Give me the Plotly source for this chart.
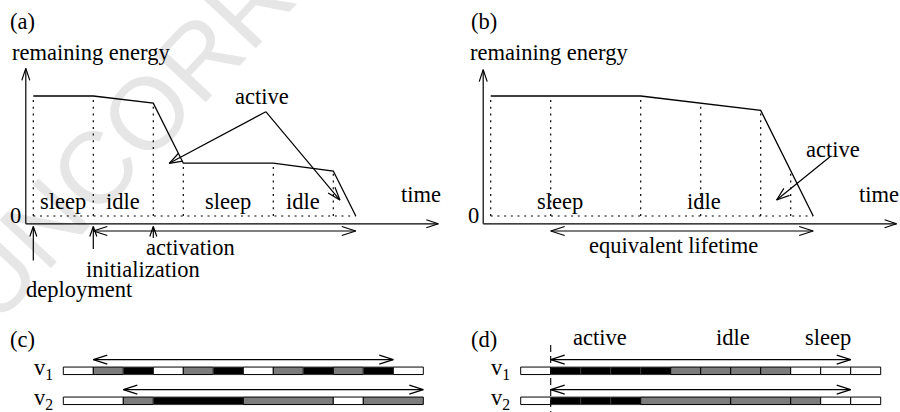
import math
import plotly.graph_objects as go

W, H = 900, 412
FONT = "Liberation Serif"
FS = 22.5

# ---------------- data ----------------
# panel (a): remaining energy of a node over time
a_time = [0, 2, 4, 5, 8, 10, 10.75]
a_energy = [10, 10, 9.4, 4.4, 4.4, 3.75, 0]
a_marks = [0, 2, 4, 5, 8, 10]
a_labels = ["sleep", "idle", "sleep", "idle"]
a_label_t = [1, 3, 6.5, 9]
a_events = ["deployment", "initialization", "activation"]
a_event_t = [0, 2, 4]
a_active_tips = [(4.53, 4.39), (10.22, 1.33)]
a_span = [2, 10.75]

# panel (b): equivalent ordering of states
b_time = [0, 5, 9, 10.75]
b_energy = [10, 10, 8.8, 0]
b_marks = [0, 2, 5, 7, 9, 10]
b_labels = ["sleep", "idle"]
b_label_t = [2.3, 7.1]
b_active_tips = [(9.53, 1.33)]
b_span = [2, 10.75]

# panels (c), (d): state sequences (state, duration)
state_color = {"sleep": "#ffffff", "idle": "#7c7c7c", "active": "#000000"}
c_v1 = [("sleep", 1), ("idle", 1), ("active", 1), ("sleep", 1), ("idle", 1), ("active", 1),
        ("sleep", 1), ("idle", 1), ("active", 1), ("idle", 1), ("active", 1), ("sleep", 1)]
c_v2 = [("sleep", 2), ("idle", 1), ("active", 3), ("idle", 3), ("sleep", 1), ("idle", 2)]
d_v1 = [("sleep", 1), ("active", 1), ("active", 1), ("active", 1), ("active", 1),
        ("idle", 1), ("idle", 1), ("idle", 1), ("idle", 1), ("sleep", 1), ("sleep", 1), ("sleep", 1)]
d_v2 = [("sleep", 1), ("active", 1), ("active", 1), ("active", 1), ("idle", 3), ("idle", 2),
        ("idle", 1), ("sleep", 1), ("sleep", 1)]
c_spans = [(1, 11), (2, 12)]
d_spans = [(1, 11), (1, 11)]
d_headers = ["active", "idle", "sleep"]
d_header_t = [2.64, 7.08, 10.24]
node_names = ["v<sub>1</sub>", "v<sub>2</sub>"]

# ---------------- layout helpers ----------------
panels = {
    "a": dict(xa="x", ya="y", dom_x=(0, 450), x0px=33.3, dom_y=(40, 300), y0px=216, ux=30, uy=-12),
    "b": dict(xa="x2", ya="y2", dom_x=(450, 900), x0px=490.7, dom_y=(40, 300), y0px=216, ux=30, uy=-12),
    "c": dict(xa="x3", ya="y3", dom_x=(0, 450), x0px=63.3, dom_y=(320, 412), y0px=370.8, ux=30, uy=30),
    "d": dict(xa="x4", ya="y4", dom_x=(450, 900), x0px=520.7, dom_y=(320, 412), y0px=370.8, ux=30, uy=30),
}

fig = go.Figure()
layout_axes = {}
for k, p in panels.items():
    xr = [(p["dom_x"][0] - p["x0px"]) / p["ux"], (p["dom_x"][1] - p["x0px"]) / p["ux"]]
    yr = [(p["dom_y"][1] - p["y0px"]) / p["uy"], (p["dom_y"][0] - p["y0px"]) / p["uy"]]
    xname = "xaxis" + p["xa"][1:]
    yname = "yaxis" + p["ya"][1:]
    layout_axes[xname] = dict(domain=[p["dom_x"][0] / W, p["dom_x"][1] / W], range=xr,
                              visible=False, fixedrange=True, anchor=p["ya"])
    layout_axes[yname] = dict(domain=[1 - p["dom_y"][1] / H, 1 - p["dom_y"][0] / H], range=yr,
                              visible=False, fixedrange=True, anchor=p["xa"])


def head(tip, tail, p, L, Wd):
    ux, uy = p["ux"], p["uy"]
    dx = (tip[0] - tail[0]) * ux
    dy = (tip[1] - tail[1]) * uy
    n = math.hypot(dx, dy)
    ex, ey = dx / n, dy / n
    pts = []
    for s in (1, -1):
        hx = -ex * L - s * ey * Wd
        hy = -ey * L + s * ex * Wd
        pts.append((tip[0] + hx / ux, tip[1] + hy / uy))
    return [pts[0][0], tip[0], pts[1][0], None], [pts[0][1], tip[1], pts[1][1], None]


def arrows(p, specs):
    xs, ys = [], []
    for tail, tip, both, L, Wd in specs:
        xs += [tail[0], tip[0], None]
        ys += [tail[1], tip[1], None]
        hx, hy = head(tip, tail, p, L, Wd)
        xs += hx
        ys += hy
        if both:
            hx, hy = head(tail, tip, p, L, Wd)
            xs += hx
            ys += hy
    return xs, ys


def add_line(p, xs, ys, width=1.2, dash=None, color="black"):
    fig.add_trace(go.Scatter(x=xs, y=ys, mode="lines", xaxis=p["xa"], yaxis=p["ya"],
                             line=dict(color=color, width=width, dash=dash),
                             hoverinfo="skip", showlegend=False))


def interp(t, ts, es):
    for i in range(len(ts) - 1):
        if ts[i] <= t <= ts[i + 1]:
            f = (t - ts[i]) / (ts[i + 1] - ts[i])
            return es[i] + f * (es[i + 1] - es[i])
    return es[-1]


DOT = "2px,4.7px"
AX_Y = -0.65
AX_X = -0.25

# ---------------- panels (a) and (b) ----------------
for key, ts, es, marks, tips, span, top, right in (
        ("a", a_time, a_energy, a_marks, a_active_tips, a_span, 12.3, 13.5),
        ("b", b_time, b_energy, b_marks, b_active_tips, b_span, 12.2, 13.53)):
    p = panels[key]
    # dotted guides
    dx, dy = [], []
    for t in marks:
        dx += [t, t, None]
        dy += [0, interp(t, ts, es), None]
    dx += [ts[0], ts[-1]]
    dy += [0, 0]
    add_line(p, dx, dy, width=1.2, dash=DOT)
    # energy curve
    add_line(p, ts, es, width=1.3)
    # axes + annotation arrows
    specs = [((AX_X, AX_Y), (AX_X, top), False, 12, 4),
             ((AX_X, AX_Y), (right, AX_Y), False, 12, 4),
             ((span[0], -1.25), (span[1], -1.25), True, 14, 4.5)]
    if key == "a":
        tail = (7.75, 8.69)
        for tt in tips:
            specs.append((tail, tt, False, 13, 4.5))
        for t, bottom in zip(a_event_t, [-3.7, -2.75, -1.83]):
            specs.append(((t, bottom), (t, -0.875), False, 10, 3.5))
    else:
        tail = (11.31, 4.94)
        for tt in tips:
            specs.append((tail, tt, False, 13, 4.5))
    ax_, ay_ = arrows(p, specs)
    add_line(p, ax_, ay_, width=1.2)

# ---------------- panels (c) and (d) ----------------
for key, rows, spans in (("c", [c_v1, c_v2], c_spans), ("d", [d_v1, d_v2], d_spans)):
    p = panels[key]
    for r, seq in enumerate(rows):
        starts, lens, cols, lcols = [], [], [], []
        t = 0
        for st, du in seq:
            starts.append(t)
            lens.append(du)
            cols.append(state_color[st])
            lcols.append("#3a3a3a" if st == "active" else "#000000")
            t += du
        fig.add_trace(go.Bar(orientation="h", y=[r] * len(seq), x=lens, base=starts, width=0.25,
                             marker=dict(color=cols, line=dict(color=lcols, width=1)),
                             xaxis=p["xa"], yaxis=p["ya"], hoverinfo="skip", showlegend=False))
    specs = [((spans[r][0], r - 0.373), (spans[r][1], r - 0.373), True, 14, 4.5) for r in range(2)]
    ax_, ay_ = arrows(p, specs)
    add_line(p, ax_, ay_, width=1.1)
    if key == "d":
        add_line(p, [1, 1], [-0.86, 1.37], width=1.1, dash="7px,4px")

# ---------------- text ----------------
ann = []


def txt(s, x, y, xref="paper", yref="paper", xanchor="center", size=FS):
    ann.append(dict(text=s, x=x, y=y, xref=xref, yref=yref, showarrow=False,
                    xanchor=xanchor, yanchor="middle",
                    font=dict(family=FONT, size=size, color="black")))


def P(px, py):
    return px / W, 1 - py / H


for lab, px, py in (("(a)", 22.5, 22), ("(b)", 483.5, 22), ("(c)", 22.5, 339.3), ("(d)", 483.5, 339.3)):
    txt(lab, *P(px, py))
for px in (10, 468):
    x, y = P(px, 52.6)
    txt("remaining energy", x, y, xanchor="left")
for px in (15.5, 474):
    txt("0", *P(px, 215.3))
for px in (421, 878.5):
    txt("time", *P(px, 194.3))
for lab, t in zip(a_labels, a_label_t):
    txt(lab, t, 1.25, xref="x", yref="y")
for lab, t in zip(b_labels, b_label_t):
    txt(lab, t, 1.25, xref="x2", yref="y2")
txt("active", *P(262, 96))
txt("active", *P(833, 149.3))
for lab, px, py in zip(a_events, (79, 143, 190), (289.6, 269, 248)):
    txt(lab, *P(px, py))
txt("equivalent lifetime", *P(673, 246))
for lab, t in zip(d_headers, d_header_t):
    txt(lab, t, -1.12, xref="x4", yref="y4")
for key, x0 in (("c", 32), ("d", 489)):
    for r, name in enumerate(node_names):
        x, y = P(x0, 369 + 30 * r)
        txt(name, x, y, xanchor="left")

# watermark (behind everything)
cx, cy = P(366, -136)
shapes = [dict(type="rect", xref="paper", yref="paper", x0=cx - 0.001, x1=cx + 0.001,
               y0=cy - 0.001, y1=cy + 0.001, layer="below", line=dict(width=0),
               fillcolor="rgba(0,0,0,0)",
               label=dict(text="UNCORRECTED PROOF", textangle=-47, textposition="middle center",
                          font=dict(family="Liberation Sans", size=102, color="#e6e6e6")))]

fig.update_layout(width=W, height=H, margin=dict(l=0, r=0, t=0, b=0),
                  paper_bgcolor="white", plot_bgcolor="rgba(0,0,0,0)",
                  barmode="overlay", showlegend=False, annotations=ann, shapes=shapes,
                  **layout_axes)
fig.write_html("out.html", config={"displayModeBar": False, "staticPlot": True},
               post_script="document.body.style.margin='0';document.body.style.overflow='hidden';")
